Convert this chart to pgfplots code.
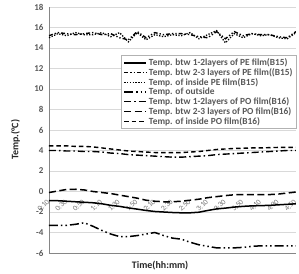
\documentclass[border=0pt]{standalone}
\usepackage{pgfplots}
\usepackage{pgfplotstable}
\pgfplotsset{compat=1.18}
\usepackage{fontspec}
\setmainfont{Carlito}

\definecolor{txtgray}{HTML}{595959}
\definecolor{gridgray}{HTML}{D9D9D9}
\definecolor{axgray}{HTML}{868686}

% minutes after start; s1..s3 PE film (B15), s4 outside, s5..s7 PO film (B16)
\pgfplotstableread{
m    s1     s2    s3    s4     s5    s6     s7
10   -0.90  15.2  15.0  -3.30  4.00  -0.10  4.45
20   -0.90  15.5  15.4  -3.30  4.00   0.05  4.45
30   -0.95  15.4  15.2  -3.30  3.95   0.20  4.45
40   -1.00  15.3  15.5  -3.20  3.95   0.22  4.40
50   -1.05  15.4  15.3  -3.05  3.90   0.15  4.40
60   -1.10  15.5  15.3  -3.40  3.90   0.00  4.35
70   -1.20  15.3  15.5  -3.80  3.85  -0.10  4.25
80   -1.35  15.4  15.1  -4.15  3.75  -0.20  4.15
90   -1.45  15.0  15.5  -4.40  3.70  -0.35  4.05
100  -1.60  14.8  14.6  -4.40  3.60  -0.50  3.95
110  -1.72  15.6  15.5  -4.30  3.55  -0.65  3.90
120  -1.85  15.0  14.8  -4.15  3.50  -0.85  3.85
130  -1.95  15.5  15.3  -4.00  3.45  -0.95  3.80
140  -2.00  15.3  15.1  -4.30  3.40  -1.00  3.80
150  -2.05  15.4  15.3  -4.55  3.35  -1.00  3.80
160  -2.08  15.4  15.2  -4.65  3.35  -0.95  3.80
170  -2.08  15.3  15.5  -4.95  3.40  -0.85  3.85
180  -2.02  15.1  14.9  -5.20  3.45  -0.75  3.90
190  -1.85  15.0  15.3  -5.35  3.50  -0.60  4.00
200  -1.70  15.6  15.7  -5.50  3.60  -0.50  4.10
210  -1.62  14.9  14.5  -5.50  3.65  -0.40  4.15
220  -1.52  15.6  15.4  -5.50  3.70  -0.32  4.20
230  -1.45  15.2  15.0  -5.45  3.75  -0.30  4.22
240  -1.40  15.4  15.4  -5.35  3.80  -0.30  4.25
250  -1.38  15.3  15.2  -5.30  3.85  -0.30  4.25
260  -1.35  15.3  15.3  -5.30  3.90  -0.30  4.28
270  -1.30  15.1  15.0  -5.30  3.95  -0.25  4.30
280  -1.25  15.0  14.9  -5.30  4.00  -0.15  4.30
290  -1.20  15.6  15.5  -5.30  4.00  -0.05  4.30
}\temps

\begin{document}
\begin{tikzpicture}
\useasboundingbox (-49bp,-21bp) rectangle (250bp,253bp);
\begin{axis}[
  at={(0,0)}, anchor=south west,
  scale only axis, width=247bp, height=246bp,
  xmin=10, xmax=290, ymin=-6, ymax=18,
  ytick={-6,-4,...,18},
  yticklabels={-6,-4,-2,0,2,4,6,8,10,12,14,16,18},
  xtick={10,30,...,290},
  xticklabels={0:10,0:30,0:50,1:10,1:30,1:50,2:10,2:30,2:50,3:10,3:30,3:50,4:10,4:30,4:50},
  axis lines*=left,
  axis line style={axgray, line width=0.9bp},
  ymajorgrids, grid style={gridgray, line width=0.7bp},
  major tick length=0pt,
  tick label style={text=txtgray},
  yticklabel style={font=\fontsize{9}{10}\selectfont\bfseries, xshift=-2bp},
  xticklabel style={font=\fontsize{7.5}{8}\selectfont, rotate=45, anchor=east, inner sep=1bp, text=black!55},
  xticklabel shift=-53bp,
  xlabel={Time(hh:mm)},
  xlabel style={at={(axis description cs:0.45,0)}, anchor=north, inner sep=0pt, yshift=-8bp,
                font=\fontsize{10}{12}\selectfont\bfseries, text=black!85},
  ylabel={Temp.(°C)},
  ylabel style={at={(axis description cs:-0.117,0.46)}, anchor=south, inner sep=0pt,
                font=\fontsize{10}{12}\selectfont\bfseries, text=black!85},
  legend style={at={(1.004,0.805)}, anchor=north east, draw=gray!60, line width=0.9bp,
                fill=white, font=\fontsize{9.4}{10}\selectfont\bfseries, text=txtgray,
                inner xsep=2bp, inner ysep=1.2bp, row sep=-2.6bp,
                cells={anchor=west}},
  legend image code/.code={\draw[#1] (0bp,0bp) -- (22bp,0bp);},
]
\addplot[black, line width=1.5bp, solid] table[x=m, y=s1] {\temps};
\addlegendentry{Temp. btw 1-2layers of PE film(B15)}
\addplot[black, line width=1.4bp, dash pattern=on 4bp off 2bp on 1.3bp off 2bp on 1.3bp off 2bp] table[x=m, y=s2] {\temps};
\addlegendentry{Temp. btw 2-3 layers of PE film((B15)}
\addplot[black, line width=1.3bp, dash pattern=on 1.3bp off 1.5bp] table[x=m, y=s3] {\temps};
\addlegendentry{Temp. of inside PE film(B15)}
\addplot[black, line width=1.5bp, dash pattern=on 9bp off 3bp on 1.5bp off 3bp on 1.5bp off 3bp] table[x=m, y=s4] {\temps};
\addlegendentry{Temp. of outside}
\addplot[black, line width=1.4bp, dash pattern=on 7bp off 3bp on 1.5bp off 3bp] table[x=m, y=s5] {\temps};
\addlegendentry{Temp. btw 1-2layers of PO film(B16)}
\addplot[black, line width=1.5bp, dash pattern=on 7bp off 3.5bp] table[x=m, y=s6] {\temps};
\addlegendentry{Temp. btw 2-3 layers of PO film(B16)}
\addplot[black, line width=1.4bp, dash pattern=on 4.5bp off 3bp] table[x=m, y=s7] {\temps};
\addlegendentry{Temp. of inside PO film(B16)}
\end{axis}
\end{tikzpicture}
\end{document}
